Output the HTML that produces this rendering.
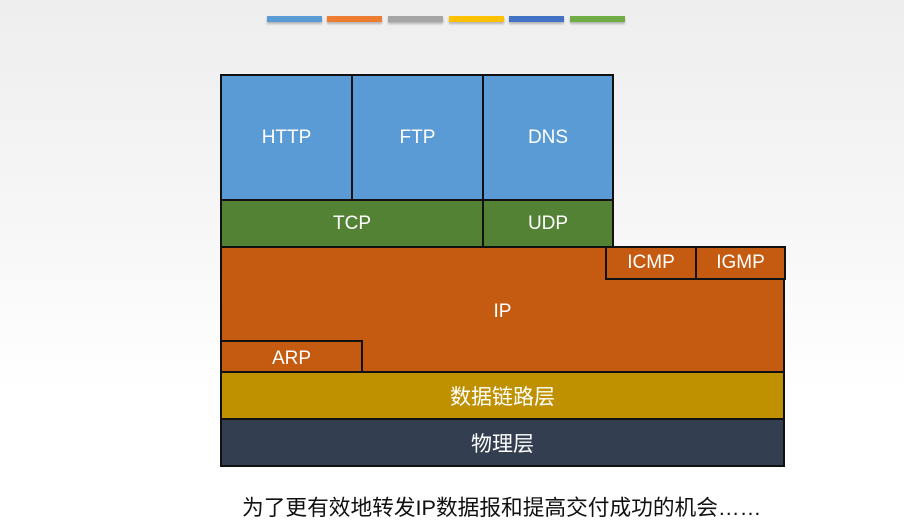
<!DOCTYPE html>
<html><head><meta charset="utf-8"><style>
body{margin:0;width:904px;height:527px;overflow:hidden;background:linear-gradient(#eeeeee,#f6f6f6 40%,#fff 75%);font-family:"Liberation Sans","Noto Sans CJK SC",sans-serif;position:relative}
.b{position:absolute;box-sizing:border-box;border:2px solid #111;color:#fff;display:flex;align-items:center;justify-content:center;font-size:19px}
.bar{position:absolute;top:16px;height:6px;width:55px;box-shadow:0 2px 2px rgba(0,0,0,.25)}
.bl{background:#5b9bd5}.gr{background:#548235}.or{background:#c55a11}
.cj{font-size:21px}
</style></head><body>
<div class="bar" style="left:267px;background:#5b9bd5"></div>
<div class="bar" style="left:327px;background:#ed7d31"></div>
<div class="bar" style="left:388px;background:#a5a5a5"></div>
<div class="bar" style="left:449px;background:#ffc000"></div>
<div class="bar" style="left:509px;background:#4472c4"></div>
<div class="bar" style="left:570px;background:#70ad47"></div>

<div class="b bl" style="left:220px;top:74px;width:133px;height:127px">HTTP</div>
<div class="b bl" style="left:351px;top:74px;width:133px;height:127px">FTP</div>
<div class="b bl" style="left:482px;top:74px;width:132px;height:127px">DNS</div>
<div class="b gr" style="left:220px;top:199px;width:264px;height:49px">TCP</div>
<div class="b gr" style="left:482px;top:199px;width:132px;height:49px">UDP</div>
<div class="b or" style="left:220px;top:246px;width:565px;height:127px;padding-top:4px">IP</div>
<div class="b or" style="left:605px;top:246px;width:92px;height:34px">ICMP</div>
<div class="b or" style="left:695px;top:246px;width:91px;height:34px">IGMP</div>
<div class="b or" style="left:220px;top:340px;width:143px;height:33px;padding-top:4px">ARP</div>
<div class="b cj" style="left:220px;top:371px;width:565px;height:49px;background:#bf9000">数据链路层</div>
<div class="b cj" style="left:220px;top:418px;width:565px;height:49px;background:#333f50">物理层</div>
<div style="position:absolute;left:242px;top:491px;font-size:21.7px;color:#111;white-space:nowrap">为了更有效地转发IP数据报和提高交付成功的机会……</div>
</body></html>
